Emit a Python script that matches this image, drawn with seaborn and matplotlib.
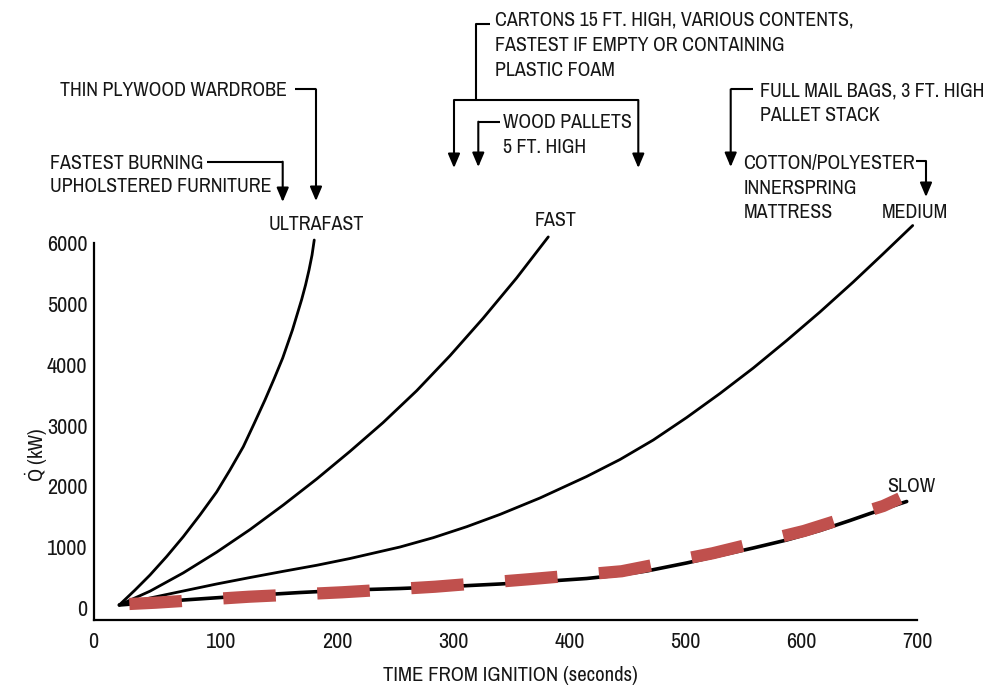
import matplotlib
matplotlib.use("Agg")
import matplotlib.pyplot as plt
import matplotlib.transforms as mtransforms
import seaborn as sns

# ---------------- data ----------------
x_ticks = [0, 100, 200, 300, 400, 500, 600, 700]
y_ticks = [0, 1000, 2000, 3000, 4000, 5000, 6000]

ultrafast_t = [11.8, 25.4, 38.3, 52.7, 67.0, 81.4, 95.8, 107.3, 118.8, 128.0,
               137.5, 145.3, 152.8, 161.2, 169.2, 172.5, 175.5, 178.1, 180.0]
ultrafast_q = [54, 300, 546, 850, 1175, 1531, 1909, 2270, 2652, 3025,
               3419, 3763, 4108, 4568, 5071, 5306, 5552, 5798, 6044]

fast_t = [11.8, 38.3, 67.0, 95.8, 124.6, 153.3, 182.1, 210.8, 239.3, 268.4,
          297.1, 325.6, 354.6, 381.9]
fast_q = [54, 281, 581, 921, 1292, 1695, 2122, 2575, 3046, 3571,
          4145, 4758, 5421, 6095]

medium_t = [11.8, 38.3, 67.0, 95.8, 124.6, 153.3, 182.1, 210.8, 254.0, 282.7,
            311.5, 340.3, 374.7, 415.0, 443.8, 472.5, 501.3, 530.0, 558.8, 587.6,
            616.3, 645.0, 670.6, 696.3]
medium_q = [54, 169, 284, 399, 505, 607, 706, 817, 1006, 1159,
            1339, 1541, 1810, 2163, 2442, 2762, 3131, 3525, 3944, 4395,
            4863, 5355, 5814, 6282]

slow_t = [11.8, 67.0, 124.6, 167.7, 210.8, 254.0, 297.1, 340.3, 383.4, 415.0,
          443.8, 466.8, 501.3, 530.0, 558.8, 587.6, 616.3, 642.2, 659.5, 691.1]
slow_q = [54, 136, 210, 259, 300, 325, 358, 399, 448, 489,
          547, 612, 744, 867, 990, 1121, 1277, 1441, 1556, 1753]

overlay_t = [20.5, 43.2, 123.7, 204.2, 284.2, 364.7, 445.2, 523.7, 602.5, 670.9, 685.3]
overlay_q = [71, 92, 190, 263, 354, 476, 608, 903, 1269, 1679, 1805]

curve_names = ["ULTRAFAST", "FAST", "MEDIUM", "SLOW"]
x_label = "TIME FROM IGNITION (seconds)"
y_label = r"$\dot{\mathrm{Q}}$ (kW)"

# ---------------- style ----------------
sns.set_theme(style="white")
FONT = ["Archivo Narrow", "Liberation Sans", "DejaVu Sans"]
plt.rcParams["font.family"] = FONT
plt.rcParams["mathtext.fontset"] = "custom"
plt.rcParams["mathtext.rm"] = "Archivo Narrow"
plt.rcParams["mathtext.it"] = "Archivo Narrow:italic"
TXT = "#161616"

fig = plt.figure(figsize=(10.02, 6.86), dpi=100)
W, H = 1002, 686


def fit_size(text, target_px, fs0=14.0):
    t = fig.text(0, 0, text, fontsize=fs0)
    r = fig.canvas.get_renderer()
    w = t.get_window_extent(renderer=r).width
    t.remove()
    return fs0 * target_px / w


FS = fit_size("THIN PLYWOOD WARDROBE", 227)
FS_TICK = fit_size("6000", 40.5)
FS_LAB = fit_size(x_label, 254)
CAP = 0.70 * FS * 100 / 72  # approximate cap height in px

ax = fig.add_axes([94 / W, 66 / H, 823 / W, 377.3 / H])

for t, q in [(ultrafast_t, ultrafast_q), (fast_t, fast_q), (medium_t, medium_q)]:
    sns.lineplot(x=t, y=q, ax=ax, color="black", linewidth=2.0, sort=False,
                 estimator=None, clip_on=False)
sns.lineplot(x=slow_t, y=slow_q, ax=ax, color="black", linewidth=2.6, sort=False,
             estimator=None, clip_on=False)
sns.lineplot(x=overlay_t, y=overlay_q, ax=ax, color="#C0504D", linewidth=8.8,
             linestyle=(0, (4.3, 3.4)), sort=False, estimator=None,
             zorder=5, clip_on=False)

ax.set_xlim(-10, 700)
ax.set_ylim(-192, 6000)
ax.set_xticks(x_ticks)
ax.set_yticks(y_ticks)
sns.despine(ax=ax)
for s in ["left", "bottom"]:
    ax.spines[s].set_linewidth(1.6)
    ax.spines[s].set_color("black")
ax.tick_params(axis="both", direction="in", length=8, width=1.5,
               colors="black", labelcolor=TXT, labelsize=FS_TICK)
ax.tick_params(axis="y", pad=4.8)
ax.tick_params(axis="x", pad=9)
ax.set_xticklabels([str(v) for v in x_ticks])
ax.set_yticklabels([str(v) for v in y_ticks])
t0 = ax.xaxis.get_major_ticks()[0]
t0.tick1line.set_visible(False)
t0.label1.set_transform(t0.label1.get_transform() +
                        mtransforms.ScaledTranslation(-0.12, 0, fig.dpi_scale_trans))

ax.set_xlabel(x_label, fontsize=FS_LAB, color=TXT)
ax.xaxis.set_label_coords((510 - 94) / 823, -(666 - 620) / 377.3)
ax.xaxis.label.set_va("top")
ax.set_ylabel(y_label, fontsize=FS_LAB, color=TXT)
ax.yaxis.set_label_coords((50 - 94) / 823, (620 - 455) / 377.3)
ax.grid(False)

# ---------------- annotation overlay (figure pixel coordinates) ----------------
ov = fig.add_axes([0, 0, 1, 1], zorder=10)
ov.set_xlim(0, W)
ov.set_ylim(H, 0)
ov.axis("off")
ov.patch.set_alpha(0)


def put(x, y, s, fs=None):
    ov.text(x, y + CAP / 2, s, ha="left", va="baseline", fontsize=fs or FS,
            color=TXT)


def seg(pts):
    xs = [p[0] for p in pts]
    ys = [p[1] for p in pts]
    ov.plot(xs, ys, color="black", lw=1.5, solid_capstyle="butt")


def arrow(x, y0, y1):
    ov.annotate("", xy=(x, y1), xytext=(x, y0),
                arrowprops=dict(arrowstyle="-|>,head_length=0.85,head_width=0.36",
                                color="black", lw=1.5, shrinkA=0, shrinkB=0,
                                mutation_scale=10))


put(60, 89.3, "THIN PLYWOOD WARDROBE")
seg([(295, 89.3), (316, 89.3)])
arrow(316, 89.3, 201)
put(50, 161.7, "FASTEST BURNING")
put(50, 185.5, "UPHOLSTERED FURNITURE")
seg([(207, 161.7), (282.7, 161.7)])
arrow(282.7, 161.7, 202)
put(268.3, 222.7, curve_names[0])

put(495, 19, "CARTONS 15 FT. HIGH, VARIOUS CONTENTS,")
put(495, 44, "FASTEST IF EMPTY OR CONTAINING")
put(495, 69.3, "PLASTIC FOAM")
seg([(490, 24), (476, 24), (476, 100)])
seg([(454, 100), (638.3, 100)])
arrow(454, 100, 168)
arrow(638.3, 100, 168)
put(503, 120.7, "WOOD PALLETS")
put(503, 146, "5 FT. HIGH")
seg([(500, 121.7), (478.3, 121.7)])
arrow(478.3, 121.7, 167)
put(535, 219.3, curve_names[1])

put(760, 89.3, "FULL MAIL BAGS, 3 FT. HIGH")
put(760, 114.5, "PALLET STACK")
seg([(753.3, 89.3), (730.7, 89.3)])
arrow(730.7, 89.3, 167)
put(743.3, 161.7, "COTTON/POLYESTER")
put(743.3, 186.7, "INNERSPRING")
put(743.3, 210.7, "MATTRESS")
seg([(916, 161), (926, 161)])
arrow(926, 161, 197)
put(881.7, 211, curve_names[2])

put(886.7, 485, curve_names[3])

fig.savefig("out.png", dpi=100)
